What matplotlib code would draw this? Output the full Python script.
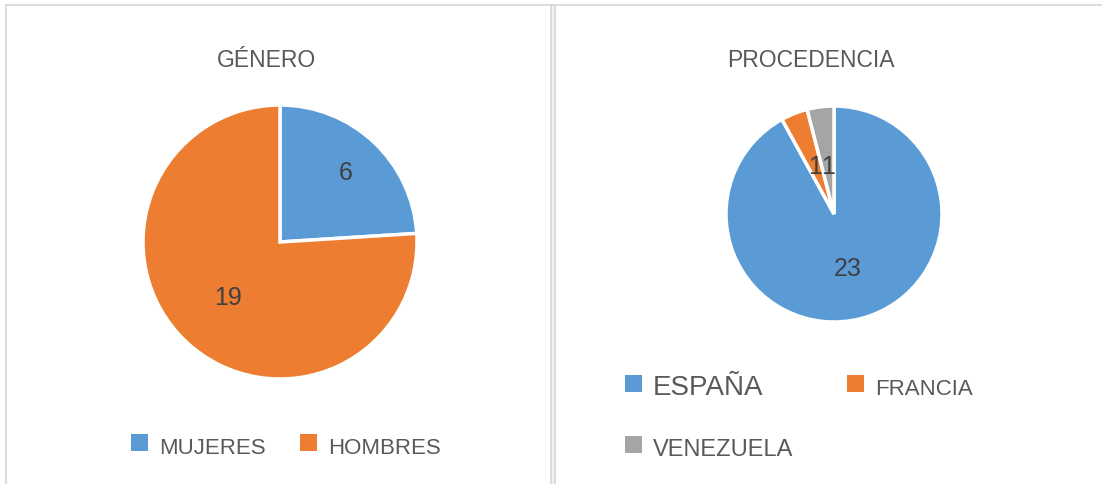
import numpy as np
import matplotlib
matplotlib.use('Agg')
import matplotlib.pyplot as plt
from matplotlib.patches import Rectangle
from matplotlib.lines import Line2D

plt.rcParams['font.family'] = ['Liberation Sans', 'DejaVu Sans']

# Data
genero_labels = ['MUJERES', 'HOMBRES']
genero_values = [6, 19]
procedencia_labels = ['ESPAÑA', 'FRANCIA', 'VENEZUELA']
procedencia_values = [23, 1, 1]

colors = ['#5B9BD5', '#ED7D31', '#A5A5A5']
TEXT = '#595959'
LABEL = '#404040'
BORDER = '#D9D9D9'

W, H = 1102, 485
fig = plt.figure(figsize=(W / 100, H / 100), dpi=100)


def fx(x):
    return x / W


def fy(y):
    return 1 - y / H


def frame_line(xs, ys):
    fig.add_artist(Line2D([fx(x) for x in xs], [fy(y) for y in ys],
                          transform=fig.transFigure, color=BORDER, lw=1.3))


# panel frames: left panel boxed, right panel open on the right
frame_line([6, 6], [H + 5, 6])
frame_line([6, 1102], [6, 6])
fig.add_artist(Rectangle((fx(551), 0), 4 / W, fy(6), transform=fig.transFigure,
                         facecolor='#F2F2F2', edgecolor='none'))
frame_line([551, 551], [H + 5, 6])
frame_line([555, 555], [H + 5, 6])


def draw_pie(cx, cy, r, values, label_dist):
    ax = fig.add_axes([fx(cx - r), fy(cy + r), 2 * r / W, 2 * r / H])
    wedges, _ = ax.pie(values, colors=colors[:len(values)], startangle=90,
                       counterclock=False, radius=1,
                       wedgeprops=dict(edgecolor='white', linewidth=2.5))
    ax.set_xlim(-1, 1)
    ax.set_ylim(-1, 1)
    ax.set_aspect('equal')
    ax.axis('off')
    for w, v, d in zip(wedges, values, label_dist):
        ang = np.deg2rad((w.theta1 + w.theta2) / 2)
        ax.text(d * np.cos(ang), d * np.sin(ang), str(v), ha='center',
                va='center', fontsize=18, color=LABEL)
    return ax


def legend_item(x, y_base, label, color, size):
    fig.add_artist(Rectangle((fx(x), fy(y_base - 2)), 17 / W, 17 / H,
                             transform=fig.transFigure, facecolor=color,
                             edgecolor='none'))
    fig.text(fx(x + 28), fy(y_base), label, ha='left', va='baseline',
             fontsize=size, color=TEXT)


# GÉNERO
fig.text(fx(267), fy(67), 'GÉNERO', ha='center', va='baseline',
         fontsize=16.5, color=TEXT)
draw_pie(280, 243, 137, genero_values, [0.70, 0.55])
legend_item(131, 454, genero_labels[0], colors[0], 16)
legend_item(300, 454, genero_labels[1], colors[1], 16)

# PROCEDENCIA
fig.text(fx(811), fy(67), 'PROCEDENCIA', ha='center', va='baseline',
         fontsize=16.5, color=TEXT)
draw_pie(834, 215, 108, procedencia_values, [0.52, 0.48, 0.45])
legend_item(625, 395, procedencia_labels[0], colors[0], 20)
legend_item(847, 395, procedencia_labels[1], colors[1], 16)
legend_item(625, 456, procedencia_labels[2], colors[2], 17)

fig.savefig('out.png', dpi=100)
